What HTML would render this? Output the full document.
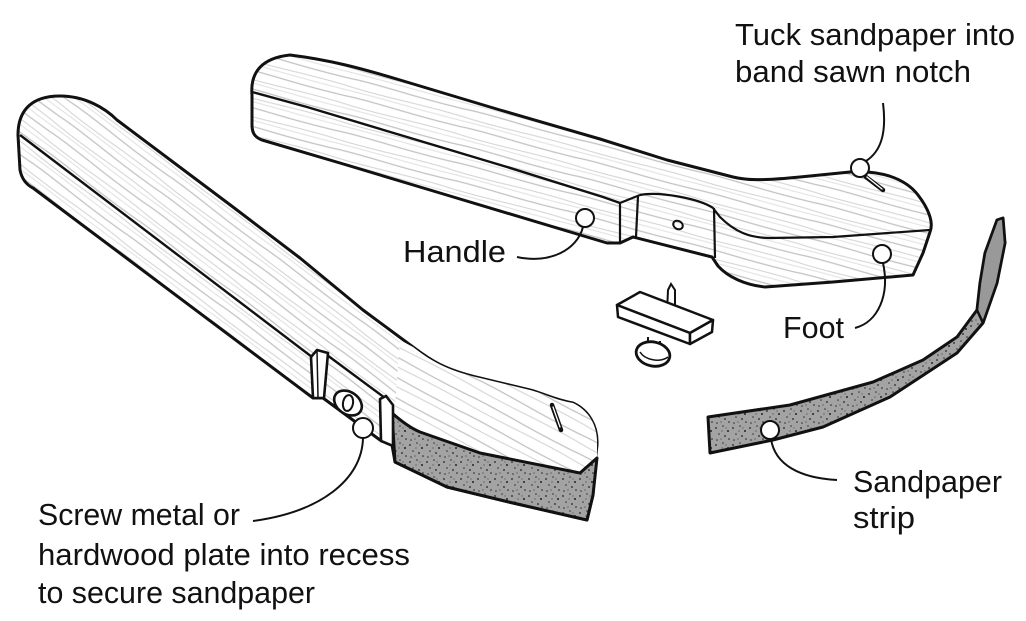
<!DOCTYPE html>
<html>
<head>
<meta charset="utf-8">
<style>
html,body{margin:0;padding:0;background:#fff;}
svg{display:block;}
text{font-family:"Liberation Sans",sans-serif;font-size:31px;fill:#111;}
</style>
</head>
<body>
<svg width="1026" height="621" viewBox="0 0 1026 621" xmlns="http://www.w3.org/2000/svg">
<defs>
  <pattern id="g1" width="120" height="18" patternUnits="userSpaceOnUse" patternTransform="rotate(15)">
    <rect width="120" height="18" fill="#fff"/>
    <path d="M0 3 C30 1 60 5 120 3" fill="none" stroke="#c2c2c2" stroke-width="1.2"/>
    <path d="M0 11 C40 13 80 9 120 11" fill="none" stroke="#d2d2d2" stroke-width="1.1"/>
    <path d="M0 15 C50 14 70 16 120 15" fill="none" stroke="#e0e0e0" stroke-width="1"/>
  </pattern>
  <pattern id="g2" width="120" height="18" patternUnits="userSpaceOnUse" patternTransform="rotate(37)">
    <rect width="120" height="18" fill="#fff"/>
    <path d="M0 3 C30 1 60 5 120 3" fill="none" stroke="#c2c2c2" stroke-width="1.2"/>
    <path d="M0 11 C40 13 80 9 120 11" fill="none" stroke="#d2d2d2" stroke-width="1.1"/>
    <path d="M0 15 C50 14 70 16 120 15" fill="none" stroke="#e0e0e0" stroke-width="1"/>
  </pattern>
  <pattern id="g3" width="120" height="18" patternUnits="userSpaceOnUse" patternTransform="rotate(28)">
    <rect width="120" height="18" fill="#fff"/>
    <path d="M0 3 C30 1 60 5 120 3" fill="none" stroke="#c2c2c2" stroke-width="1.2"/>
    <path d="M0 11 C40 13 80 9 120 11" fill="none" stroke="#d2d2d2" stroke-width="1.1"/>
  </pattern>
  <pattern id="st" width="17" height="17" patternUnits="userSpaceOnUse">
    <rect width="17" height="17" fill="#a3a3a3"/>
    <circle cx="2" cy="3" r="0.9" fill="#222"/>
    <circle cx="9" cy="1" r="0.8" fill="#333"/>
    <circle cx="14" cy="6" r="1" fill="#222"/>
    <circle cx="5" cy="9" r="0.8" fill="#333"/>
    <circle cx="11" cy="11" r="0.9" fill="#222"/>
    <circle cx="3" cy="15" r="0.8" fill="#333"/>
    <circle cx="15" cy="14" r="0.8" fill="#222"/>
    <circle cx="8" cy="6" r="0.6" fill="#444"/>
    <circle cx="7" cy="14" r="0.6" fill="#444"/>
    <circle cx="12" cy="3" r="0.6" fill="#555"/>
  </pattern>
</defs>

<!-- ===== Top-right handle piece ===== -->
<path d="M 252 95 C 250 72 262 58 290 55 C 330 60 360 68 400 80 L 500 110 L 600 139 L 667 160 L 733 177 C 745 180 760 181 800 177 L 850 172 C 880 170 905 178 918 195 C 928 208 934 222 930 232 L 923 253 L 913 275 L 833 282 L 765 287 C 745 285 728 277 718 266 L 712 257 L 633 237 L 620 243 L 607 243 L 440 193 L 340 163 L 262 140 C 254 137 252 132 252 125 Z" fill="url(#g1)" stroke="#111" stroke-width="3" stroke-linejoin="round"/>
<path d="M 252 92 L 307 107 L 407 137 L 507 167 L 603 197 L 620 203" fill="none" stroke="#111" stroke-width="2.4"/>
<path d="M 620 203 L 620 242 M 620 203 L 640 195 M 638 196 L 636 237 M 640 195 C 660 191 700 199 713 208 L 720 217 C 735 232 750 238 770 238 L 833 237 L 930 230 M 714 208 L 715 258" fill="none" stroke="#111" stroke-width="2.2"/>
<ellipse cx="678" cy="225" rx="5" ry="4" fill="none" stroke="#111" stroke-width="2" transform="rotate(30 678 225)"/>
<path d="M 866 177 L 883 190" stroke="#111" stroke-width="4.5" stroke-linecap="round"/>
<path d="M 867 177 L 882 189" stroke="#fff" stroke-width="1.4" stroke-linecap="round"/>

<!-- ===== Left piece ===== -->
<path d="M 20 170 L 18 135 C 18 110 32 96 60 96 C 85 96 105 108 117 120 L 233 207 L 300 258 L 363 310 L 413 347 C 430 360 445 370 480 378 L 530 390 C 545 394 555 400 573 403 C 588 410 598 425 597 445 L 595 463 L 593 495 L 587 520 L 513 503 L 447 487 L 395 462 L 392 445 L 380 440 L 323 398 L 313 398 L 33 188 C 27 185 22 180 20 170 Z" fill="url(#g2)" stroke="#111" stroke-width="3" stroke-linejoin="round"/>
<path d="M 392 413 C 400 420 410 428 420 432 L 480 453 L 580 473 L 597 458 L 597 445 C 598 425 588 410 573 403 C 555 400 545 394 530 390 L 480 378 C 445 370 430 360 413 347 L 400 340 L 395 405 Z" fill="url(#g3)" stroke="none"/>
<path d="M 392 413 C 400 420 410 428 420 432 L 480 453 L 580 473 L 597 458 L 593 495 L 587 520 L 513 503 L 447 487 L 395 462 Z" fill="url(#st)" stroke="#111" stroke-width="3" stroke-linejoin="round"/>
<path d="M 20 135 L 312 357" fill="none" stroke="#111" stroke-width="2.4"/>
<!-- notch blocks -->
<path d="M 311 357 L 317 350 L 328 353 L 324 398 L 313 398 Z" fill="#fff" stroke="#111" stroke-width="2.6" stroke-linejoin="round"/>
<path d="M 317 351 L 318 397" stroke="#111" stroke-width="1.5"/>
<path d="M 327 355 L 385 398" fill="none" stroke="#111" stroke-width="2.4"/>
<path d="M 380 399 L 386 396 L 393 405 L 393 446 L 381 441 Z" fill="#fff" stroke="#111" stroke-width="2.6" stroke-linejoin="round"/>
<ellipse cx="348" cy="403" rx="15" ry="11" fill="#fff" stroke="#111" stroke-width="2.6" transform="rotate(35 348 403)"/>
<ellipse cx="348" cy="403" rx="5" ry="8" fill="none" stroke="#111" stroke-width="2" transform="rotate(10 348 403)"/>
<path d="M 552 405 L 561 430" stroke="#111" stroke-width="4.5" stroke-linecap="round"/>
<path d="M 553 407 L 560 427" stroke="#fff" stroke-width="1.3" stroke-linecap="round"/>

<!-- ===== Plate with screw ===== -->
<path d="M 668 290 L 671 284 L 675 290 L 675 312 L 667 312 Z" fill="#fff" stroke="#111" stroke-width="2"/>
<path d="M 617 305 L 640 292 L 713 320 L 690 333 Z" fill="#fff" stroke="#111" stroke-width="2.5" stroke-linejoin="round"/>
<path d="M 617 305 L 690 333 L 690 344 L 618 317 Z" fill="#fff" stroke="#111" stroke-width="2.5" stroke-linejoin="round"/>
<path d="M 690 333 L 713 320 L 712 332 L 690 344 Z" fill="#fff" stroke="#111" stroke-width="2.5" stroke-linejoin="round"/>
<path d="M 648 337 L 648 347 M 660 341 L 660 348" stroke="#111" stroke-width="2"/>
<ellipse cx="653" cy="354" rx="17" ry="12" fill="#fff" stroke="#111" stroke-width="2.8" transform="rotate(12 653 354)"/>
<path d="M 640 352 C 645 360 660 363 668 357" fill="none" stroke="#111" stroke-width="1.5"/>

<!-- ===== Sandpaper strip ===== -->
<path d="M 708 417 L 790 405 L 873 382 L 923 360 L 957 337 L 977 310 L 980 283 L 985 253 L 997 220 L 1003 218 L 1005 243 L 997 283 L 983 323 L 957 353 L 890 397 L 823 427 L 773 440 L 710 453 Z" fill="url(#st)" stroke="#111" stroke-width="3" stroke-linejoin="round"/>
<path d="M 985 253 L 997 220 L 1003 218 L 1005 243 L 997 283 L 983 323 L 977 310 L 980 283 Z" fill="#999" stroke="#111" stroke-width="2.5" stroke-linejoin="round"/>

<!-- ===== Connectors ===== -->
<g fill="none" stroke="#111" stroke-width="2">
  <path d="M 883 103 C 887 135 880 152 866 161"/>
  <path d="M 517 257 C 550 264 577 250 583 227"/>
  <path d="M 855 328 C 878 322 890 295 883 263"/>
  <path d="M 837 480 C 800 478 775 465 771 439"/>
  <path d="M 253 521 C 320 512 362 480 363 438"/>
</g>
<g fill="#fff" stroke="#111" stroke-width="2">
  <circle cx="860" cy="168" r="9"/>
  <circle cx="585" cy="218" r="9"/>
  <circle cx="882" cy="254" r="9"/>
  <circle cx="770" cy="430" r="9"/>
  <circle cx="363" cy="428" r="10"/>
</g>

<!-- ===== Labels ===== -->
<text x="735" y="45" textLength="280" lengthAdjust="spacingAndGlyphs">Tuck sandpaper into</text>
<text x="735" y="82" textLength="236" lengthAdjust="spacingAndGlyphs">band sawn notch</text>
<text x="403" y="262" textLength="103" lengthAdjust="spacingAndGlyphs">Handle</text>
<text x="783" y="338" textLength="61" lengthAdjust="spacingAndGlyphs">Foot</text>
<text x="853" y="492" textLength="149" lengthAdjust="spacingAndGlyphs">Sandpaper</text>
<text x="853" y="528" textLength="62" lengthAdjust="spacingAndGlyphs">strip</text>
<text x="38" y="525" textLength="202" lengthAdjust="spacingAndGlyphs">Screw metal or</text>
<text x="38" y="565" textLength="372" lengthAdjust="spacingAndGlyphs">hardwood plate into recess</text>
<text x="38" y="603" textLength="277" lengthAdjust="spacingAndGlyphs">to secure sandpaper</text>
</svg>
</body>
</html>
